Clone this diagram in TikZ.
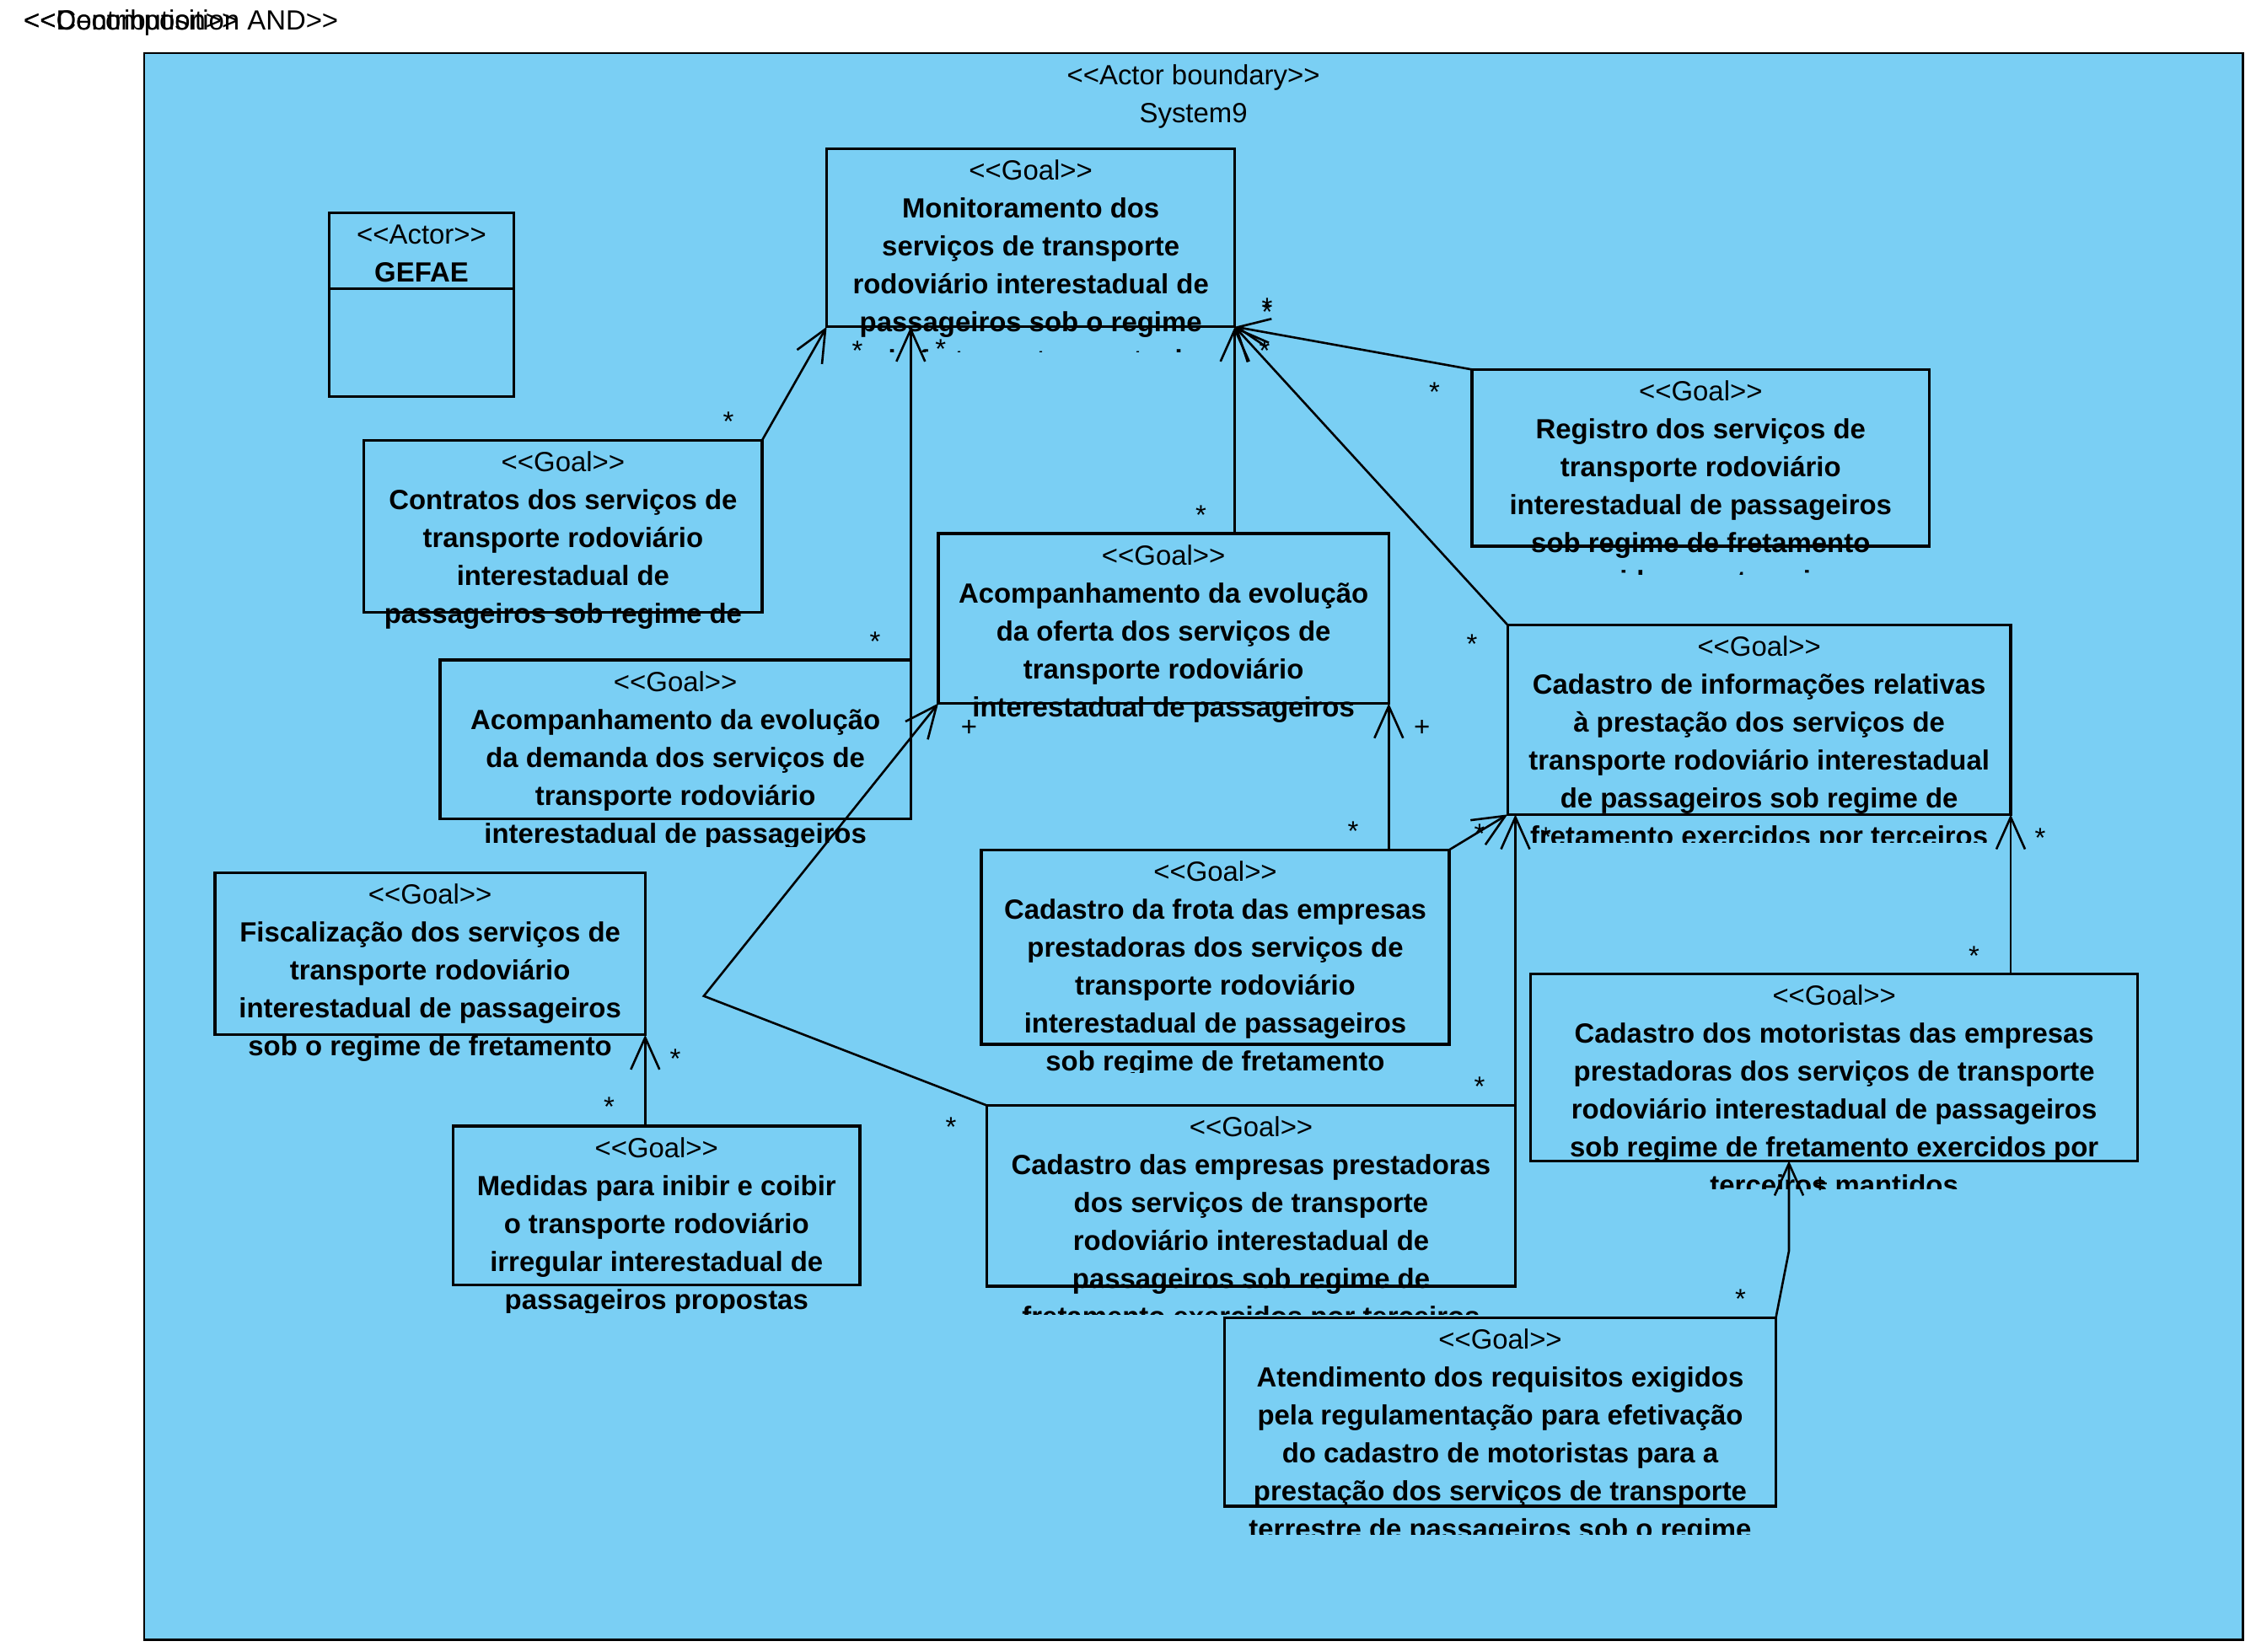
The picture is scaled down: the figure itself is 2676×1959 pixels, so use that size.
\documentclass[tikz,border=0pt]{standalone}
\usepackage{fontspec}
\setmainfont{Liberation Sans}
\usetikzlibrary{arrows.meta}

\definecolor{sysfill}{RGB}{122,207,244}

% UML guillemets written as two characters, kept apart from the TeX ligature mapping
\newcommand\stL{<\kern0pt<}
\newcommand\stR{>\kern0pt>}
\newcommand\umlfont{\fontsize{32.9}{45}\selectfont}

\tikzset{
  sysframe/.style={draw, line width=2.4pt, fill=sysfill, rectangle, inner sep=0pt, outer sep=0pt},
  goalframe/.style={draw, line width=3.2pt, rectangle, inner sep=0pt, outer sep=0pt},
  goaltext/.style={inner sep=0pt, align=center, font=\umlfont\bfseries, anchor=north},
  conn/.style={line width=2.6pt, -{Straight Barb[length=38pt,width=34pt]}},
  starlbl/.style={inner sep=0pt, font=\umlfont, anchor=base, yshift=-19pt},
  pluslbl/.style={inner sep=0pt, font=\umlfont, anchor=base, yshift=-11.6pt},
}

% goal box: [text overhang below the frame], name, left, top, right, bottom, text lines
\newcommand\goal[7][33]{%
  \node[goalframe, anchor=north west, minimum width={#5-#3}, minimum height={#6-#4}] (#2) at (#3,#4) {};
  \begin{scope}
    \clip (#3-80,#4) rectangle (#5+80,#6+#1);
    \node[goaltext] (#2-text) at ({(#3+#5)/2},#4+12)
      {\rule{0pt}{25pt}{\mdseries\stL Goal\stR}\\#7};
  \end{scope}}

\begin{document}
\begin{tikzpicture}[x=1pt,y=-1pt]
\useasboundingbox (0,0) rectangle (2676,1959);

% legend texts, printed on top of each other
\node[anchor=base west, inner sep=0pt, font=\umlfont] (legendA) at (28,36) {\stL Contribution\stR};
\node[anchor=base west, inner sep=0pt, font=\umlfont] (legendB) at (28,36) {\stL Decomposition AND\stR};

% actor boundary
\node[sysframe, anchor=north west, minimum width=2489.9, minimum height=1882.5] (sys) at (170.7,63) {};
\node[inner sep=0pt, align=center, font=\umlfont, anchor=north] (sys-text) at (1415.6,75)
  {\rule{0pt}{25pt}\stL Actor boundary\stR\\System9};

% actor
\node[goalframe, anchor=north west, minimum width=218.6, minimum height=218] (gefae) at (390.7,252.7) {};
\coordinate (gefae-div) at (0,342.7);
\draw[line width=3.2pt] (gefae.west |- gefae-div) -- (gefae.east |- gefae-div);
\node[inner sep=0pt, align=center, font=\umlfont, anchor=north] (gefae-text) at (500,264.7)
  {\rule{0pt}{25pt}\stL Actor\stR\\\textbf{GEFAE}};

% goals
\goal[30]{monit}{980.6}{176.7}{1464.7}{387.7}{Monitoramento dos\\serviços de transporte\\rodoviário interestadual de\\passageiros sob o regime\\de fretamento eventual}
\goal{contratos}{431.8}{522.3}{904}{726.7}{Contratos dos serviços de\\transporte rodoviário\\interestadual de\\passageiros sob regime de}
\goal{registro}{1746}{438.4}{2288.6}{648}{Registro dos serviços de\\transporte rodoviário\\interestadual de passageiros\\sob regime de fretamento\\exercidos por terceiros}
\goal{oferta}{1113}{633}{1647.3}{834.5}{Acompanhamento da evolução\\da oferta dos serviços de\\transporte rodoviário\\interestadual de passageiros}
\goal{demanda}{522}{783}{1080.3}{971.5}{Acompanhamento da evolução\\da demanda dos serviços de\\transporte rodoviário\\interestadual de passageiros}
\goal{info}{1788.3}{741.5}{2385}{966.3}{Cadastro de informações relativas\\à prestação dos serviços de\\transporte rodoviário interestadual\\de passageiros sob regime de\\fretamento exercidos por terceiros}
\goal{frota}{1164}{1008.3}{1719}{1239}{Cadastro da frota das empresas\\prestadoras dos serviços de\\transporte rodoviário\\interestadual de passageiros\\sob regime de fretamento}
\goal{empresas}{1170.5}{1311.5}{1797.5}{1526}{Cadastro das empresas prestadoras\\dos serviços de transporte\\rodoviário interestadual de\\passageiros sob regime de\\fretamento exercidos por terceiros}
\goal{fiscal}{255}{1035.5}{765.3}{1227.7}{Fiscalização dos serviços de\\transporte rodoviário\\interestadual de passageiros\\sob o regime de fretamento}
\goal{medidas}{537.5}{1336}{1020}{1524.3}{Medidas para inibir e coibir\\o transporte rodoviário\\irregular interestadual de\\passageiros propostas}
\goal{motoristas}{1815.8}{1155.4}{2535.5}{1377.2}{Cadastro dos motoristas das empresas\\prestadoras dos serviços de transporte\\rodoviário interestadual de passageiros\\sob regime de fretamento exercidos por\\terceiros mantidos}
\goal{atend}{1452.5}{1563.3}{2106.5}{1787}{Atendimento dos requisitos exigidos\\pela regulamentação para efetivação\\do cadastro de motoristas para a\\prestação dos serviços de transporte\\terrestre de passageiros sob o regime}

% bend points
\coordinate (bendA) at (834.8,1181.7);
\coordinate (bendB) at (2122,1484);

% connectors
\draw[conn] (contratos.north east) -- (monit.south west);
\draw[conn] (demanda.north east) -- (demanda.north east |- monit.south);
\draw[conn] (monit.south east |- oferta.north) -- (monit.south east);
\draw[conn] (registro.north west) -- (monit.south east);
\draw[conn] (info.north west) -- (monit.south east);
\draw[conn] (empresas.north west) -- (bendA) -- (oferta.south west);
\draw[conn] (oferta.south east |- frota.north) -- (oferta.south east);
\draw[conn] (frota.north east) -- (info.south west);
\draw[conn] (empresas.north east) -- (empresas.north east |- info.south);
\draw[conn] (info.south east |- motoristas.north) -- (info.south east);
\draw[conn] (atend.north east) -- (bendB) -- (bendB |- motoristas.south);
\draw[conn] (fiscal.south east |- medidas.north) -- (fiscal.south east);

% multiplicities
\node[starlbl] (m1) at (864,492) {*};
\node[starlbl] (m2) at (1017,408) {*};
\node[starlbl] (m3) at (1038,753) {*};
\node[starlbl] (m4) at (1115.7,406.7) {*};
\node[starlbl] (m5) at (1424.5,603) {*};
\node[starlbl] (m6) at (1503,357) {*};
\node[starlbl] (m7) at (1503,362) {*};
\node[starlbl] (m8) at (1500,408) {*};
\node[starlbl] (m9) at (1701.5,457) {*};
\node[starlbl] (m10) at (1746,756) {*};
\node[starlbl] (m11) at (1128,1329.5) {*};
\node[pluslbl] (m12) at (1149.5,861.7) {+};
\node[starlbl] (m13) at (1605,978) {*};
\node[pluslbl] (m14) at (1686.7,861.7) {+};
\node[starlbl] (m15) at (1755,981) {*};
\node[starlbl] (m16) at (1755,1281.7) {*};
\node[starlbl] (m17) at (1833.7,985) {*};
\node[starlbl] (m18) at (2341.5,1126.4) {*};
\node[starlbl] (m19) at (2420,986.7) {*};
\node[starlbl] (m20) at (2064.5,1533) {*};
\node[pluslbl] (m21) at (2159,1403.5) {+};
\node[starlbl] (m22) at (722.4,1305) {*};
\node[starlbl] (m23) at (801,1248) {*};
\end{tikzpicture}
\end{document}
